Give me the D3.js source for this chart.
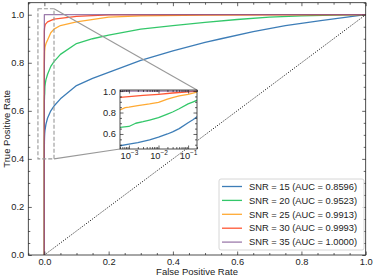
<!DOCTYPE html>
<html lang="en">
<head>
<meta charset="UTF-8">
<title>ROC curves by SNR</title>
<script src="https://cdnjs.cloudflare.com/ajax/libs/d3/7.8.5/d3.min.js"></script>
<style>
body { margin: 0; background: #fff; }
svg { display: block; font-family: "Liberation Sans", Arial, sans-serif; }
.tick text { font-size: 9.3px; fill: #222; font-family: "Liberation Sans", Arial, sans-serif; }
.tick line { stroke: #222; stroke-width: 0.7; }
.frame { fill: none; stroke: #222; stroke-width: 0.8; }
.roc { fill: none; stroke-width: 1.3; stroke-opacity: 0.8; stroke-linejoin: round; }
</style>
</head>
<body>
<svg width="374" height="279"></svg>
<script>

// values
var snrLabels = ["SNR = 15 (AUC = 0.8596)", "SNR = 20 (AUC = 0.9523)", "SNR = 25 (AUC = 0.9913)",
                 "SNR = 30 (AUC = 0.9993)", "SNR = 35 (AUC = 1.0000)"];
var snrColors = ["#0C5DA5", "#00B945", "#FF9500", "#FF2C00", "#845B97"];

var fpr15 = [0, 0, 1e-4, 5e-4, 1e-3, 2e-3, 5e-3, 0.01, 0.02, 0.03, 0.05, 0.1, 0.15, 0.2, 0.3, 0.4, 0.5, 0.55, 0.65, 0.75, 0.86, 0.93, 1];
var tpr15 = [0, 0.45, 0.47, 0.49, 0.505, 0.52, 0.545, 0.57, 0.6, 0.62, 0.65, 0.705, 0.735, 0.76, 0.81, 0.85, 0.885, 0.9, 0.93, 0.955, 0.975, 0.988, 1];

var fpr20 = [0, 0, 5e-4, 1e-3, 1.7e-3, 3e-3, 5e-3, 0.01, 0.02, 0.03, 0.05, 0.1, 0.15, 0.2, 0.3, 0.4, 0.5, 0.6, 0.7, 0.8, 0.9, 1];
var tpr20 = [0, 0.64, 0.662, 0.67, 0.7, 0.715, 0.73, 0.752, 0.785, 0.805, 0.835, 0.88, 0.9, 0.915, 0.94, 0.955, 0.968, 0.98, 0.99, 0.995, 0.998, 1];

var fpr25 = [0, 0, 5e-4, 7.5e-4, 1e-3, 2e-3, 5e-3, 0.01, 0.02, 0.03, 0.05, 0.1, 0.2, 0.3, 0.5, 0.7, 1];
var tpr25 = [0, 0.8, 0.824, 0.845, 0.85, 0.865, 0.88, 0.895, 0.925, 0.94, 0.955, 0.97, 0.99, 0.995, 0.998, 0.999, 1];

var fpr30 = [0, 0, 5e-4, 1e-3, 3e-3, 0.01, 0.03, 0.1, 0.2, 0.5, 1];
var tpr30 = [0, 0.93, 0.942, 0.948, 0.96, 0.97, 0.982, 0.993, 0.999, 1, 1];

var fpr35 = [0, 0, 1e-4, 1];
var tpr35 = [0, 1, 1, 1];

var diagFpr = [0, 1];
var diagTpr = [0, 1];

var xTicks = [0, 0.2, 0.4, 0.6, 0.8, 1.0];
var yTicks = [0, 0.2, 0.4, 0.6, 0.8, 1.0];
var insetYTicks = [0.6, 0.8, 1.0];
var insetXTicks = [1e-3, 1e-2, 1e-1];

// zoom box drawn on the main axes
var zoomFpr = [-0.02, 0.03];
var zoomTpr = [0.4, 1.025];

function zipped(f, t) { return f.map(function(v, i) { return [v, t[i]]; }); }
var series = [zipped(fpr15, tpr15), zipped(fpr20, tpr20), zipped(fpr25, tpr25),
              zipped(fpr30, tpr30), zipped(fpr35, tpr35)];

var svg = d3.select("svg");
var margin = {top: 2.7, right: 8.3, bottom: 24, left: 28.3};
var width = +svg.attr("width") - margin.left - margin.right;
var height = +svg.attr("height") - margin.top - margin.bottom;

var x = d3.scaleLinear().domain([-0.05, 1.0]).range([margin.left, margin.left + width]);
var y = d3.scaleLinear().domain([0, 1.05]).range([margin.top + height, margin.top]);

function minorOf(lo, hi, step, majors) {
    var out = [];
    for (var v = lo; v <= hi + 1e-9; v += step) {
        var r = Math.round(v * 1000) / 1000;
        if (majors.indexOf(r) < 0) out.push(r);
    }
    return out;
}

function tickAxis(g, axis, translate) {
    var a = g.append("g").attr("transform", translate).call(axis);
    a.select(".domain").remove();
    a.attr("font-size", null).attr("font-family", null);
    return a;
}

// returns the labelled bottom axis so its labels can be restyled
function drawAxes(g, xs, ys, xMaj, xMin, yMaj, yMin, xFmt, yFmt, box) {
    var b = "translate(0," + box.bottom + ")", t = "translate(0," + box.top + ")";
    var l = "translate(" + box.left + ",0)", r = "translate(" + box.right + ",0)";
    var bottomAxis = tickAxis(g, d3.axisBottom(xs).tickValues(xMaj).tickSize(-3.5).tickPadding(3).tickFormat(xFmt), b);
    tickAxis(g, d3.axisBottom(xs).tickValues(xMin).tickSize(-2).tickFormat(""), b);
    tickAxis(g, d3.axisTop(xs).tickValues(xMaj).tickSize(-3.5).tickFormat(""), t);
    tickAxis(g, d3.axisTop(xs).tickValues(xMin).tickSize(-2).tickFormat(""), t);
    tickAxis(g, d3.axisLeft(ys).tickValues(yMaj).tickSize(-3.5).tickPadding(4).tickFormat(yFmt), l);
    tickAxis(g, d3.axisLeft(ys).tickValues(yMin).tickSize(-2).tickFormat(""), l);
    tickAxis(g, d3.axisRight(ys).tickValues(yMaj).tickSize(-3.5).tickFormat(""), r);
    tickAxis(g, d3.axisRight(ys).tickValues(yMin).tickSize(-2).tickFormat(""), r);
    g.append("rect").attr("class", "frame")
        .attr("x", box.left).attr("y", box.top)
        .attr("width", box.right - box.left).attr("height", box.bottom - box.top);
    return bottomAxis;
}

var defs = svg.append("defs");
defs.append("clipPath").attr("id", "mainClip").append("rect")
    .attr("x", margin.left).attr("y", margin.top).attr("width", width).attr("height", height);

// main curves
var mainLine = d3.line().x(function(d) { return x(d[0]); }).y(function(d) { return y(d[1]); });
var curves = svg.append("g").attr("clip-path", "url(#mainClip)");

curves.append("path")
    .attr("d", mainLine(zipped(diagFpr, diagTpr)))
    .attr("fill", "none").attr("stroke", "#000").attr("stroke-width", 1)
    .attr("stroke-dasharray", "1,1.6");

curves.selectAll(".roc").data(series).enter().append("path")
    .attr("class", "roc")
    .attr("d", mainLine)
    .attr("stroke", function(d, i) { return snrColors[i]; });

var mainBox = {left: margin.left, right: margin.left + width, top: margin.top, bottom: margin.top + height};
drawAxes(svg.append("g"), x, y, xTicks, minorOf(-0.05, 1.0, 0.05, xTicks),
         yTicks, minorOf(0, 1.05, 0.05, yTicks), d3.format(".1f"), d3.format(".1f"), mainBox);

// inset placement
var inset = {left: 120, right: 197, top: 90, bottom: 149};

svg.append("rect")
    .attr("x", x(zoomFpr[0])).attr("y", y(zoomTpr[1]))
    .attr("width", x(zoomFpr[1]) - x(zoomFpr[0])).attr("height", y(zoomTpr[0]) - y(zoomTpr[1]))
    .attr("fill", "none").attr("stroke", "#999").attr("stroke-width", 1.1)
    .attr("stroke-dasharray", "4,2");

svg.append("line")
    .attr("x1", x(zoomFpr[1])).attr("y1", y(zoomTpr[1]))
    .attr("x2", inset.right).attr("y2", inset.top)
    .attr("stroke", "#999").attr("stroke-width", 1.1);
svg.append("line")
    .attr("x1", x(zoomFpr[1])).attr("y1", y(zoomTpr[0]))
    .attr("x2", inset.left).attr("y2", inset.bottom)
    .attr("stroke", "#999").attr("stroke-width", 1.1);

var ix = d3.scaleLog().domain([5e-4, 0.2]).range([inset.left, inset.right]);
var iy = d3.scaleLinear().domain([0.46, 1.01]).range([inset.bottom, inset.top]);

defs.append("clipPath").attr("id", "insetClip").append("rect")
    .attr("x", inset.left).attr("y", inset.top)
    .attr("width", inset.right - inset.left).attr("height", inset.bottom - inset.top);

var insetG = svg.append("g");
insetG.append("rect")
    .attr("x", inset.left).attr("y", inset.top)
    .attr("width", inset.right - inset.left).attr("height", inset.bottom - inset.top)
    .attr("fill", "#fff");

var insetLine = d3.line().x(function(d) { return ix(d[0]); }).y(function(d) { return iy(d[1]); });
insetG.append("g").attr("clip-path", "url(#insetClip)")
    .selectAll(".roc").data(series).enter().append("path")
    .attr("class", "roc")
    .attr("d", function(d) { return insetLine(d.filter(function(p) { return p[0] > 0; })); })
    .attr("stroke", function(d, i) { return snrColors[i]; });

var logMinor = [];
[-4, -3, -2, -1].forEach(function(k) {
    for (var m = 2; m <= 9; m++) {
        var v = m * Math.pow(10, k);
        if (v >= 5e-4 && v <= 0.2) logMinor.push(v);
    }
});

var insetBottom = drawAxes(insetG, ix, iy, insetXTicks, logMinor, insetYTicks, minorOf(0.5, 1.0, 0.05, insetYTicks),
         function() { return ""; }, d3.format(".1f"), inset);

// superscript exponents on the log ticks
insetBottom.selectAll(".tick text")
    .each(function(d) {
        var t = d3.select(this);
        t.append("tspan").text("10");
        t.append("tspan").attr("dy", "-3.5").attr("font-size", "6.5px").text("\u2212" + Math.round(-Math.log10(d)));
    });

// legend
var legend = svg.append("g");
legend.append("rect")
    .attr("x", 219).attr("y", 179).attr("width", 145).attr("height", 71)
    .attr("rx", 2).attr("fill", "#fff").attr("fill-opacity", 0.8)
    .attr("stroke", "#ccc").attr("stroke-width", 0.8);

var rows = legend.selectAll(".row").data(snrLabels).enter().append("g")
    .attr("transform", function(d, i) { return "translate(222," + (186.5 + i * 13.9) + ")"; });
rows.append("line").attr("x1", 0).attr("x2", 20)
    .attr("stroke", function(d, i) { return snrColors[i]; })
    .attr("stroke-width", 1.3).attr("stroke-opacity", 0.8);
rows.append("text").attr("x", 27).attr("dy", "0.35em")
    .attr("font-size", "9.3px").attr("fill", "#222")
    .text(function(d) { return d; });

// axis titles
svg.append("text")
    .attr("x", (mainBox.left + mainBox.right) / 2).attr("y", 275)
    .attr("text-anchor", "middle").attr("font-size", "9.5px").attr("fill", "#222")
    .text("False Positive Rate");
svg.append("text")
    .attr("transform", "translate(9.5," + (mainBox.top + mainBox.bottom) / 2 + ") rotate(-90)")
    .attr("text-anchor", "middle").attr("font-size", "9.5px").attr("fill", "#222")
    .text("True Positive Rate");

</script>
</body>
</html>
